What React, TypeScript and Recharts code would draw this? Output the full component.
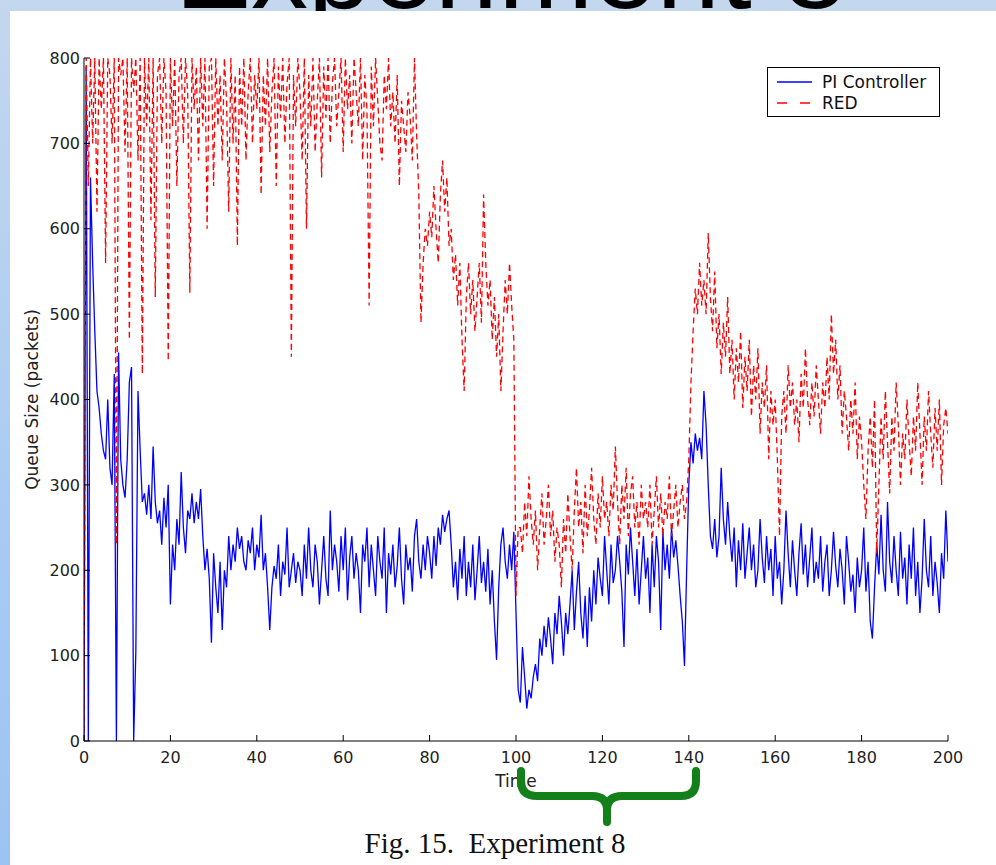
import React from 'react';
import { LineChart, Line, XAxis, YAxis, Legend } from 'recharts';

const STEP = 0.5;

// PI Controller queue size, sampled every 0.5 time units from t=0 to t=200
const piController = [
  0, 790, 0, 660, 560, 480, 410, 390, 360, 340, 330, 400, 320, 300, 430, 0, 455, 330, 300, 285,
  330, 420, 438, 0, 105, 410, 340, 280, 290, 265, 300, 260, 345, 280, 255, 270, 230, 285, 250, 300,
  160, 230, 200, 260, 230, 315, 250, 220, 270, 260, 290, 255, 280, 260, 295, 240, 200, 225, 190, 115,
  220, 180, 150, 210, 130, 200, 180, 240, 200, 230, 210, 250, 225, 240, 210, 200, 235, 220, 250, 200,
  230, 215, 265, 200, 220, 180, 130, 180, 205, 190, 230, 170, 210, 195, 250, 180, 200, 220, 185, 210,
  200, 170, 230, 190, 250, 200, 180, 230, 210, 160, 200, 240, 190, 170, 270, 200, 230, 210, 175, 240,
  200, 250, 165, 215, 240, 190, 220, 200, 150, 230, 210, 250, 180, 230, 200, 170, 240, 210, 190, 250,
  150, 220, 195, 230, 180, 205, 250, 190, 160, 230, 200, 215, 175, 240, 260, 210, 190, 230, 200, 240,
  220, 190, 240, 205, 250, 230, 265, 245, 260, 270, 230, 180, 210, 165, 225, 190, 240, 170, 210, 180,
  230, 165, 200, 240, 185, 210, 175, 225, 160, 200, 140, 95, 180, 230, 250, 210, 190, 230, 200, 245,
  150, 60, 45, 110, 75, 38, 60, 50, 75, 90, 70, 120, 100, 135, 110, 145, 120, 90, 150, 125,
  170, 140, 100, 150, 125, 160, 200, 130, 175, 210, 150, 120, 170, 110, 180, 140, 200, 160, 215, 190,
  170, 240, 200, 160, 230, 185, 200, 240, 210, 175, 110, 230, 195, 250, 210, 170, 225, 160, 200, 240,
  190, 215, 150, 230, 180, 240, 210, 130, 245, 200, 230, 190, 250, 215, 235, 205, 170, 140, 88, 200,
  300, 350, 325, 360, 340, 355, 330, 410, 370, 300, 240, 225, 260, 215, 240, 320, 260, 230, 280, 240,
  210, 250, 180, 235, 200, 255, 190, 220, 250, 200, 230, 180, 200, 260, 215, 185, 240, 200, 225, 170,
  240, 190, 210, 160, 200, 270, 220, 180, 235, 200, 170, 220, 255, 195, 230, 180, 215, 250, 185, 210,
  190, 240, 175, 210, 230, 170, 200, 245, 205, 180, 225, 200, 160, 240, 210, 175, 195, 150, 215, 180,
  200, 250, 175, 210, 140, 120, 180, 230, 195, 265, 200, 175, 280, 210, 185, 240, 200, 170, 245, 190,
  215, 160, 230, 190, 250, 170, 210, 150, 190, 260, 200, 180, 240, 170, 210, 185, 150, 220, 190, 270, 210,
];

// RED queue size, same sampling
const red = [
  0, 800, 650, 800, 700, 800, 620, 800, 740, 800, 560, 800, 780, 700, 800, 230, 800, 780, 800, 690,
  800, 470, 800, 760, 800, 680, 800, 430, 800, 720, 800, 610, 800, 520, 780, 800, 700, 800, 760, 445,
  800, 720, 800, 650, 780, 800, 700, 800, 760, 525, 800, 740, 790, 680, 800, 720, 800, 600, 790, 800,
  650, 800, 720, 780, 680, 800, 750, 620, 800, 700, 780, 580, 790, 720, 800, 680, 760, 800, 700, 780,
  740, 800, 640, 780, 720, 800, 690, 760, 800, 650, 790, 730, 800, 700, 770, 800, 450, 780, 720, 800,
  760, 680, 800, 600, 780, 720, 800, 690, 750, 800, 660, 790, 730, 800, 700, 770, 800, 720, 760, 800,
  690, 800, 740, 780, 700, 800, 760, 720, 800, 680, 780, 740, 510, 790, 720, 800, 750, 700, 680, 780,
  740, 800, 720, 760, 700, 780, 650, 750, 720, 690, 760, 730, 680, 800, 710, 640, 490, 560, 600, 580,
  620, 590, 650, 600, 560, 640, 680, 620, 660, 580, 600, 540, 570, 510, 560, 470, 410, 520, 560, 500,
  540, 480, 520, 560, 490, 640, 560, 510, 540, 470, 520, 450, 500, 410, 480, 540, 500, 560, 510, 470,
  170, 250, 250, 220, 280, 240, 310, 260, 230, 270, 200, 250, 290, 230, 260, 300, 240, 270, 210, 250,
  230, 180, 260, 220, 290, 240, 200, 270, 320, 250, 280, 220, 300, 240, 270, 320, 260, 230, 290, 250,
  310, 260, 280, 240, 300, 270, 345, 280, 230, 300, 260, 320, 240, 290, 310, 250, 280, 230, 300, 260,
  280, 250, 300, 230, 270, 310, 250, 290, 240, 280, 260, 310, 240, 270, 300, 250, 280, 300, 260, 280,
  330, 420, 480, 530, 500, 560, 510, 540, 500, 595, 520, 480, 550, 460, 500, 430, 490, 450, 520, 430,
  470, 400, 460, 420, 480, 390, 450, 410, 470, 380, 440, 400, 460, 360, 420, 390, 440, 330, 410, 370,
  400, 330, 240, 380, 410, 360, 440, 390, 420, 370, 400, 350, 430, 390, 460, 400, 370, 420, 380, 440,
  400, 360, 420, 390, 450, 400, 500, 430, 470, 400, 440, 360, 410, 380, 340, 400, 360, 420, 330, 380,
  350, 300, 260, 340, 380, 320, 400, 220, 300, 380, 330, 410, 350, 290, 380, 340, 420, 370, 300, 360,
  330, 400, 350, 310, 380, 340, 420, 360, 300, 380, 340, 410, 360, 320, 390, 340, 400, 300, 370, 390, 360,
];

const xTicks = [0, 20, 40, 60, 80, 100, 120, 140, 160, 180, 200];
const yTicks = [0, 100, 200, 300, 400, 500, 600, 700, 800];
const seriesNames = { pi: 'PI Controller', red: 'RED' };

const data = piController.map((v, i) => ({ t: i * STEP, pi: v, red: red[i] }));

const FONT = '"DejaVu Sans", "Liberation Sans", Arial, sans-serif';

const LegendBox = (props: any) => {
  const payload = props.payload || [];
  return (
    <div style={{ width: 173, height: 50, background: '#fff', border: '1px solid #000', boxSizing: 'border-box', position: 'relative' }}>
      <svg width={173} height={50} style={{ position: 'absolute', left: -1, top: -1 }}>
        {payload.map((p: any, i: number) => (
          <g key={i}>
            <line
              x1={10}
              x2={45}
              y1={15 + i * 21}
              y2={15 + i * 21}
              stroke={p.color}
              strokeWidth={1.3}
              strokeDasharray={p.dataKey === 'red' ? '10 13' : undefined}
            />
            <text x={55} y={21 + i * 21} fontFamily={FONT} fontSize={17} fill="#111">
              {p.value}
            </text>
          </g>
        ))}
      </svg>
    </div>
  );
};

const YLabel = (props: any) => {
  const vb = props.viewBox || { x: 34, y: 58, width: 50, height: 683 };
  const cx = vb.x - 2;
  const cy = vb.y + vb.height / 2;
  return (
    <text x={cx} y={cy} transform={`rotate(-90 ${cx} ${cy})`} textAnchor="middle" dominantBaseline="central" fontFamily={FONT} fontSize={17} fill="#222">
      Queue Size (packets)
    </text>
  );
};

const XLabel = (props: any) => {
  const vb = props.viewBox || { x: 84, y: 741, width: 864, height: 30 };
  return (
    <text x={vb.x + vb.width / 2} y={vb.y + 46} textAnchor="middle" fontFamily={FONT} fontSize={17} fill="#222">
      Time
    </text>
  );
};

export default function App() {
  return (
    <div style={{ position: 'absolute', left: 0, top: 0, width: 996, height: 865, overflow: 'hidden', background: '#fff' }}>
      <div style={{ position: 'absolute', left: 0, top: 0, width: 996, height: 11, background: '#c3d7ef' }} />
      <svg width={996} height={11} style={{ position: 'absolute', left: 0, top: 0 }}>
        <text x={175} y={8} fontFamily='"Liberation Sans", Arial, sans-serif' fontSize={114} fill="#000">
          Experiment 8
        </text>
      </svg>
      <div style={{ position: 'absolute', left: 0, top: 0, width: 10, height: 865, background: 'linear-gradient(#c3d7ef, #a9cbf2 60%, #9cc4f2)' }} />
      <div style={{ position: 'absolute', left: 10, top: 11, width: 986, height: 854, background: '#fff' }} />

      <div style={{ position: 'absolute', left: 0, top: 0 }}>
        <LineChart width={996} height={865} data={data} margin={{ top: 58, right: 48, bottom: 94, left: 34 }}>
          <XAxis
            xAxisId="b"
            dataKey="t"
            type="number"
            domain={[0, 200]}
            ticks={xTicks}
            interval={0}
            allowDataOverflow
            height={30}
            tickSize={-6}
            tickMargin={17}
            stroke="#000"
            tick={{ fill: '#222', fontSize: 16, fontFamily: FONT }}
            label={<XLabel />}
          />
          <XAxis
            xAxisId="t"
            orientation="top"
            dataKey="t"
            type="number"
            domain={[0, 200]}
            ticks={xTicks}
            interval={0}
            allowDataOverflow
            height={0}
            tickSize={-6}
            tick={false}
            stroke="#000"
          />
          <YAxis
            yAxisId="l"
            type="number"
            domain={[0, 800]}
            ticks={yTicks}
            interval={0}
            allowDataOverflow
            width={50}
            tickSize={-6}
            tickMargin={10}
            stroke="#000"
            tick={{ fill: '#222', fontSize: 16, fontFamily: FONT }}
            label={<YLabel />}
          />
          <YAxis
            yAxisId="r"
            orientation="right"
            type="number"
            domain={[0, 800]}
            ticks={yTicks}
            interval={0}
            allowDataOverflow
            width={0}
            tickSize={-6}
            tick={false}
            stroke="#000"
          />
          <Legend
            layout="vertical"
            align="center"
            verticalAlign="middle"
            content={<LegendBox />}
            wrapperStyle={{ left: 767, top: 67, width: 173, height: 50 }}
          />
          <Line
            xAxisId="b"
            yAxisId="l"
            type="linear"
            dataKey="pi"
            name={seriesNames.pi}
            stroke="#0000ff"
            strokeWidth={1.3}
            dot={false}
            activeDot={false}
            isAnimationActive={false}
          />
          <Line
            xAxisId="b"
            yAxisId="l"
            type="linear"
            dataKey="red"
            name={seriesNames.red}
            stroke="#ff0000"
            strokeWidth={1.3}
            strokeDasharray="6 4"
            dot={false}
            activeDot={false}
            isAnimationActive={false}
          />
        </LineChart>
      </div>

      <svg width={996} height={865} style={{ position: 'absolute', left: 0, top: 0, pointerEvents: 'none' }}>
        <path
          d="M 521 771 L 521 781 Q 521 796 537 796 L 592 796 Q 607 796 607 810 L 607 822 M 607 810 Q 607 796 622 796 L 681 796 Q 696 796 696 781 L 696 771"
          fill="none"
          stroke="#13801a"
          strokeWidth={8}
          strokeLinecap="round"
          strokeLinejoin="round"
        />
      </svg>

      <div
        style={{
          position: 'absolute',
          left: 0,
          top: 826,
          width: 990,
          textAlign: 'center',
          fontFamily: '"Liberation Serif", "Times New Roman", serif',
          fontSize: 29,
          lineHeight: '34px',
          color: '#111',
          whiteSpace: 'pre',
        }}
      >
        {'Fig. 15.  Experiment 8'}
      </div>
    </div>
  );
}
